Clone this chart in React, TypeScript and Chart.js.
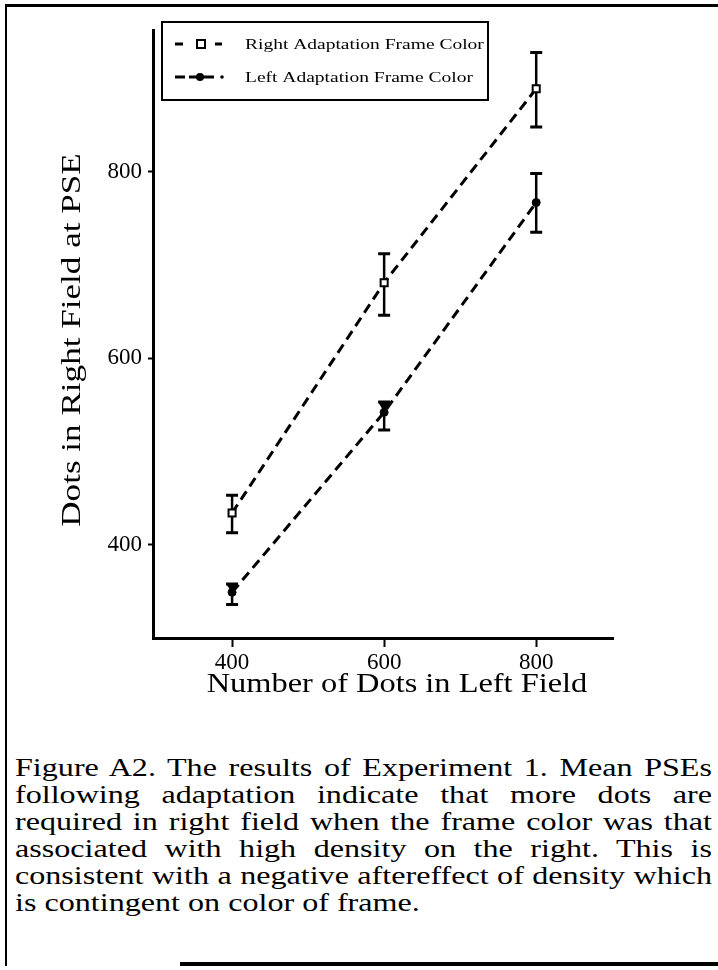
import React, { useEffect, useRef } from 'react';
import { Chart, registerables } from 'chart.js';

Chart.register(...registerables);

// ---- data ----
const xValues = [400, 600, 800];
const rightMean = [434, 681, 889];
const rightLow = [413, 646, 848];
const rightHigh = [453, 712, 928];
const leftMean = [349, 542, 767];
const leftLow = [336, 523, 735];
const leftHigh = [358, 553, 798];
const seriesLabels = ['Right Adaptation Frame Color', 'Left Adaptation Frame Color'];
const xTicks = [400, 600, 800];
const yTicks = [400, 600, 800];
const xRange = [296, 901];
const yRange = [300, 952];
const xTitle = 'Number of Dots in Left Field';
const yTitle = 'Dots in Right Field at PSE';
const captionLines = [
  'Figure A2. The results of Experiment 1. Mean PSEs',
  'following adaptation indicate that more dots are',
  'required in right field when the frame color was that',
  'associated with high density on the right. This is',
  'consistent with a negative aftereffect of density which',
  'is contingent on color of frame.',
];

const SERIF = '"Liberation Serif", "Times New Roman", serif';
const STRETCH = 1.235;

function drawStretched(
  ctx: CanvasRenderingContext2D,
  text: string,
  x: number,
  y: number,
  size: number,
  sx: number,
  rotation: number,
  align: CanvasTextAlign,
) {
  ctx.save();
  ctx.translate(x, y);
  if (rotation) ctx.rotate(rotation);
  ctx.scale(sx, 1);
  ctx.font = `${size}px ${SERIF}`;
  ctx.textAlign = align;
  ctx.textBaseline = 'middle';
  ctx.fillStyle = '#000';
  ctx.fillText(text, 0, 0);
  ctx.restore();
}

const errorBarPlugin = {
  id: 'errorBars',
  beforeDatasetsDraw(chart: any) {
    const { ctx, scales } = chart;
    const xs = scales.x;
    const ys = scales.y;
    const sets = [
      { lo: rightLow, hi: rightHigh, mid: rightMean },
      { lo: leftLow, hi: leftHigh, mid: leftMean },
    ];
    ctx.save();
    ctx.strokeStyle = '#000';
    ctx.fillStyle = '#000';
    ctx.setLineDash([]);
    sets.forEach((s) => {
      xValues.forEach((xv, i) => {
        const px = xs.getPixelForValue(xv);
        const top = ys.getPixelForValue(s.hi[i]);
        const bot = ys.getPixelForValue(s.lo[i]);
        const mid = ys.getPixelForValue(s.mid[i]);
        ctx.lineWidth = 2.5;
        ctx.beginPath();
        ctx.moveTo(px, top);
        ctx.lineTo(px, bot);
        ctx.stroke();
        ctx.lineWidth = 3;
        ctx.beginPath();
        ctx.moveTo(px - 6, top);
        ctx.lineTo(px + 6, top);
        ctx.moveTo(px - 6, bot);
        ctx.lineTo(px + 6, bot);
        ctx.stroke();
        // short upper whiskers merge with the cap into a wedge
        if (mid - top < 14) {
          ctx.beginPath();
          ctx.moveTo(px - 6, top);
          ctx.lineTo(px + 6, top);
          ctx.lineTo(px, mid);
          ctx.closePath();
          ctx.fill();
        }
      });
    });
    ctx.restore();
  },
};

const legendPlugin = {
  id: 'boxLegend',
  afterDraw(chart: any) {
    const { ctx, chartArea } = chart;
    const left = chartArea.left + 9;
    const top = chartArea.top - 8;
    const w = 326;
    const h = 78;
    ctx.save();
    ctx.strokeStyle = '#000';
    ctx.lineWidth = 2;
    ctx.setLineDash([]);
    ctx.strokeRect(left, top, w, h);
    const rows = [top + 22, top + 55];
    // row 1 sample: dash, square, dash
    ctx.lineWidth = 3;
    ctx.beginPath();
    ctx.moveTo(left + 13, rows[0]);
    ctx.lineTo(left + 21, rows[0]);
    ctx.moveTo(left + 53, rows[0]);
    ctx.lineTo(left + 60, rows[0]);
    ctx.stroke();
    ctx.lineWidth = 2;
    ctx.fillStyle = '#fff';
    ctx.fillRect(left + 35, rows[0] - 4, 8, 8);
    ctx.strokeRect(left + 35, rows[0] - 4, 8, 8);
    // row 2 sample: dashed line with filled circle
    ctx.lineWidth = 3;
    ctx.beginPath();
    ctx.moveTo(left + 13, rows[1]);
    ctx.lineTo(left + 23, rows[1]);
    ctx.moveTo(left + 27, rows[1]);
    ctx.lineTo(left + 52, rows[1]);
    ctx.stroke();
    ctx.fillStyle = '#000';
    ctx.beginPath();
    ctx.arc(left + 38, rows[1], 4, 0, Math.PI * 2);
    ctx.fill();
    ctx.beginPath();
    ctx.arc(left + 60, rows[1], 1.8, 0, Math.PI * 2);
    ctx.fill();
    ctx.restore();
    seriesLabels.forEach((lab, i) => {
      drawStretched(ctx, lab, left + 83, rows[i] + 1, 15, 1.3, 0, 'left');
    });
  },
};

const titlePlugin = {
  id: 'stretchedTitles',
  afterDraw(chart: any) {
    const { ctx, chartArea } = chart;
    const cx = (chartArea.left + chartArea.right) / 2 + 14;
    drawStretched(ctx, xTitle, cx, chartArea.bottom + 47, 27, 1.2, 0, 'center');
    const cy = (chartArea.top + chartArea.bottom) / 2 + 6;
    drawStretched(ctx, yTitle, 73, cy, 27, 1.3, -Math.PI / 2, 'center');
  },
};

export default function App() {
  const ref = useRef<HTMLCanvasElement>(null);

  useEffect(() => {
    const canvas = ref.current;
    if (!canvas) return;
    const chart = new Chart(canvas, {
      type: 'line',
      data: {
        datasets: [
          {
            label: seriesLabels[0],
            data: xValues.map((x, i) => ({ x, y: rightMean[i] })),
            borderColor: '#000',
            borderWidth: 3,
            borderDash: [10, 6],
            pointStyle: 'rect',
            pointRadius: 5,
            pointBackgroundColor: '#fff',
            pointBorderColor: '#000',
            pointBorderWidth: 2,
            tension: 0,
            fill: false,
          },
          {
            label: seriesLabels[1],
            data: xValues.map((x, i) => ({ x, y: leftMean[i] })),
            borderColor: '#000',
            borderWidth: 3,
            borderDash: [10, 6],
            pointStyle: 'circle',
            pointRadius: 4,
            pointBackgroundColor: '#000',
            pointBorderColor: '#000',
            pointBorderWidth: 1,
            tension: 0,
            fill: false,
          },
        ],
      },
      options: {
        animation: false,
        responsive: false,
        devicePixelRatio: 1,
        layout: { padding: { left: 0, right: 105, top: 30, bottom: 62 } },
        plugins: {
          legend: { display: false },
          tooltip: { enabled: false },
        },
        scales: {
          x: {
            type: 'linear',
            min: xRange[0],
            max: xRange[1],
            afterBuildTicks: (scale: any) => {
              scale.ticks = xTicks.map((v) => ({ value: v }));
            },
            afterFit: (scale: any) => {
              scale.height = 40;
            },
            border: { display: true, color: '#000', width: 3 },
            grid: {
              display: true,
              drawOnChartArea: false,
              drawTicks: true,
              tickLength: 9,
              tickWidth: 2,
              tickColor: '#000',
              color: '#000',
            },
            ticks: {
              color: '#000',
              padding: 2,
              font: { family: SERIF, size: 23 },
              callback: (v: any) => String(v),
            },
          },
          y: {
            type: 'linear',
            min: yRange[0],
            max: yRange[1],
            afterBuildTicks: (scale: any) => {
              scale.ticks = yTicks.map((v) => ({ value: v }));
            },
            afterFit: (scale: any) => {
              scale.width = 153;
            },
            border: { display: true, color: '#000', width: 3 },
            grid: {
              display: true,
              drawOnChartArea: false,
              drawTicks: true,
              tickLength: 5,
              tickWidth: 2,
              tickColor: '#000',
              color: '#000',
            },
            ticks: {
              color: '#000',
              padding: 6,
              font: { family: SERIF, size: 23 },
              callback: (v: any) => String(v),
            },
          },
        },
      },
      plugins: [errorBarPlugin, legendPlugin, titlePlugin],
    });
    return () => chart.destroy();
  }, []);

  return (
    <div
      style={{
        position: 'absolute',
        left: 0,
        top: 0,
        width: 718,
        height: 970,
        background: '#fff',
        overflow: 'hidden',
      }}
    >
      <canvas
        ref={ref}
        width={718}
        height={740}
        style={{ position: 'absolute', left: 0, top: 0, width: 718, height: 740 }}
      />
      {/* figure frame */}
      <div style={{ position: 'absolute', left: 5, top: 4, width: 2, height: 962, background: '#000' }} />
      <div style={{ position: 'absolute', left: 5, top: 4, width: 713, height: 3, background: '#000' }} />
      <div style={{ position: 'absolute', left: 180, top: 962, width: 538, height: 4, background: '#000' }} />
      {/* caption */}
      <div
        style={{
          position: 'absolute',
          left: 15,
          top: 754,
          width: 697,
          fontFamily: SERIF,
          fontSize: 26,
          lineHeight: '27px',
          color: '#000',
        }}
      >
        {captionLines.map((line, i) => (
          <div
            key={i}
            style={{
              width: 697 / STRETCH,
              height: 27,
              whiteSpace: 'nowrap',
              textAlign: i < captionLines.length - 1 ? 'justify' : 'left',
              textAlignLast: i < captionLines.length - 1 ? 'justify' : 'left',
              transform: `scaleX(${STRETCH})`,
              transformOrigin: 'left top',
            }}
          >
            {line}
          </div>
        ))}
      </div>
    </div>
  );
}
